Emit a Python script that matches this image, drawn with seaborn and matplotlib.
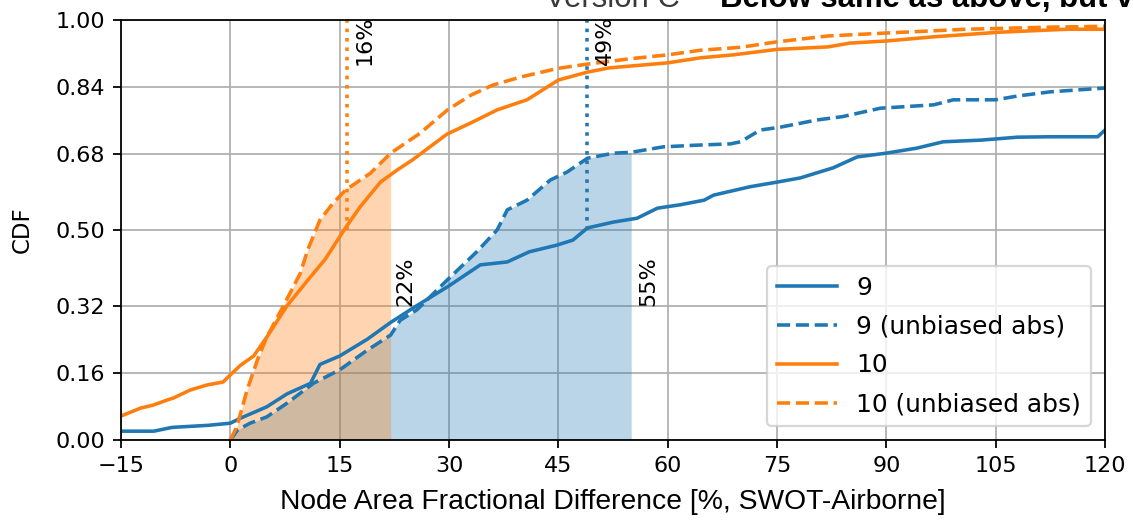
import numpy as np
import pandas as pd
import matplotlib
matplotlib.use("Agg")
import matplotlib.pyplot as plt
import seaborn as sns

# ---- data ----
x_9 = [-15, -10.5, -8, -3, 0, 1.4, 5, 7.8, 11, 12.3, 15, 18.8, 22, 25.6, 30, 34.3, 38, 41,
       44.8, 47, 49, 52.6, 55.8, 58.6, 61.7, 65, 66.3, 71.3, 75, 78.2, 82.7, 86, 90, 94.2,
       97.8, 103, 108, 112.5, 119, 120]
y_9 = [0.021, 0.021, 0.03, 0.035, 0.04, 0.052, 0.079, 0.11, 0.135, 0.18, 0.20, 0.24, 0.28,
       0.32, 0.367, 0.417, 0.424, 0.448, 0.464, 0.476, 0.505, 0.519, 0.528, 0.552, 0.56,
       0.571, 0.583, 0.603, 0.614, 0.624, 0.648, 0.674, 0.683, 0.695, 0.71, 0.714, 0.721,
       0.722, 0.722, 0.738]

x_9u = [0, 1, 2.7, 5, 7.8, 11.4, 15, 18.8, 22, 23.3, 25.6, 29.7, 33.8, 36.6, 38, 40.7, 43.9,
        46.2, 49, 52.6, 55, 59.4, 64, 68.6, 70, 72.7, 75.5, 80.5, 84, 89.2, 96.5, 99.2,
        105, 108, 112.5, 120]
y_9u = [0.0, 0.024, 0.04, 0.055, 0.088, 0.135, 0.167, 0.214, 0.25, 0.285, 0.31, 0.38, 0.448,
        0.5, 0.548, 0.571, 0.619, 0.638, 0.671, 0.683, 0.685, 0.698, 0.702, 0.705, 0.71,
        0.738, 0.745, 0.762, 0.77, 0.79, 0.798, 0.81, 0.81, 0.819, 0.829, 0.838]

x_10 = [-15, -12.3, -10.6, -8.7, -7.8, -5.5, -3.2, -1, 0, 1.4, 3.2, 5, 7.8, 10.6, 13,
        15.8, 17.8, 20.6, 22.9, 25, 29.7, 33, 36.6, 40.7, 45, 49, 52, 60, 64.5, 69, 75, 82,
        85, 90, 96.5, 105.6, 114.8, 120]
y_10 = [0.057, 0.076, 0.083, 0.095, 0.10, 0.119, 0.131, 0.138, 0.155, 0.178, 0.20, 0.245,
        0.32, 0.38, 0.43, 0.505, 0.555, 0.614, 0.643, 0.667, 0.728, 0.755, 0.786, 0.81,
        0.857, 0.876, 0.886, 0.898, 0.91, 0.917, 0.93, 0.936, 0.945, 0.95, 0.96, 0.971,
        0.978, 0.978]

x_10u = [0, 0.9, 2.3, 3.7, 5, 7.3, 9.6, 10.6, 12.3, 14.1, 15.8, 19.2, 22, 26, 29.8, 33, 36,
         40, 45, 49, 55, 60, 64.5, 70, 75, 82, 90, 101, 112.5, 120]
y_10u = [0.0, 0.032, 0.119, 0.19, 0.245, 0.32, 0.397, 0.452, 0.524, 0.564, 0.595, 0.635,
         0.683, 0.73, 0.786, 0.821, 0.845, 0.865, 0.885, 0.895, 0.908, 0.917, 0.928, 0.935,
         0.948, 0.962, 0.969, 0.978, 0.983, 0.985]

labels = ["9", "9 (unbiased abs)", "10", "10 (unbiased abs)"]
median_9, median_10 = 49, 16        # dotted lines (solid-curve medians)
p68_9u, p68_10u = 55, 22            # shaded extents (dashed-curve 68th pct)
x_ticks = [-15, 0, 15, 30, 45, 60, 75, 90, 105, 120]
y_ticks = [0.00, 0.16, 0.32, 0.50, 0.68, 0.84, 1.00]

c9, c10 = "#1f77b4", "#ff7f0e"

# ---- figure ----
fig = plt.figure(figsize=(1133 / 160, 521 / 160), dpi=160)
ax = fig.add_axes([121 / 1133, 1 - 440 / 521, (1105 - 121) / 1133, (440 - 20) / 521])

df9 = pd.DataFrame({"x": x_9, "y": y_9})
df9u = pd.DataFrame({"x": x_9u, "y": y_9u})
df10 = pd.DataFrame({"x": x_10, "y": y_10})
df10u = pd.DataFrame({"x": x_10u, "y": y_10u})

# shaded regions under dashed curves (blue first, orange on top)
m9 = df9u["x"] <= p68_9u
ax.fill_between(df9u["x"][m9], 0, df9u["y"][m9], color=c9, alpha=0.3, lw=0)
m10 = df10u["x"] <= p68_10u
ax.fill_between(df10u["x"][m10], 0, df10u["y"][m10], color=c10, alpha=0.32, lw=0)

sns.lineplot(data=df9, x="x", y="y", ax=ax, color=c9, lw=1.6, label=labels[0], estimator=None)
sns.lineplot(data=df9u, x="x", y="y", ax=ax, color=c9, lw=1.6, ls="--", label=labels[1], estimator=None)
sns.lineplot(data=df10, x="x", y="y", ax=ax, color=c10, lw=1.6, label=labels[2], estimator=None)
sns.lineplot(data=df10u, x="x", y="y", ax=ax, color=c10, lw=1.6, ls="--", label=labels[3], estimator=None)

# dotted median lines
ax.vlines(median_10, 0.5, 1.0, color=c10, ls=":", lw=1.6)
ax.vlines(median_9, 0.5, 1.0, color=c9, ls=":", lw=1.6)

ax.text(median_10 + 1, 1.01, f"{median_10}%", rotation=90, ha="left", va="top", fontsize=10)
ax.text(median_9 + 1, 1.01, f"{median_9}%", rotation=90, ha="left", va="top", fontsize=10)
ax.text(p68_10u + 0.7, 0.32, f"{p68_10u}%", rotation=90, ha="left", va="bottom", fontsize=10)
ax.text(p68_9u + 1, 0.32, f"{p68_9u}%", rotation=90, ha="left", va="bottom", fontsize=10)

ax.set_xlim(-15, 120)
ax.set_ylim(0, 1)
ax.set_xticks(x_ticks)
ax.set_yticks(y_ticks)
ax.set_xticklabels(["\u221215"] + [str(t) for t in x_ticks[1:]])
ax.set_yticklabels([f"{t:.2f}" for t in y_ticks])
ax.grid(True, color="#b0b0b0", lw=0.8)
ax.set_axisbelow(True)
ax.set_ylabel("CDF", fontsize=10.3, labelpad=10)
ax.set_xlabel("Node Area Fractional Difference [%, SWOT-Airborne]",
              fontsize=12.7, family="Liberation Sans", labelpad=6)
ax.legend(loc="lower right", fontsize=11.2, handlelength=2.4, labelspacing=0.6,
          borderaxespad=0.55)

fig.text(545 / 1133, 1 - 7 / 521, "Version C", color="#3a3a3a", fontsize=14,
         family="Liberation Sans", ha="left", va="baseline")
fig.text(720 / 1133, 1 - 7 / 521, "Below same as above, but visualized differently",
         color="black", fontsize=14, fontweight="bold",
         family="Liberation Sans", ha="left", va="baseline")

fig.savefig("out.png", dpi=160)
